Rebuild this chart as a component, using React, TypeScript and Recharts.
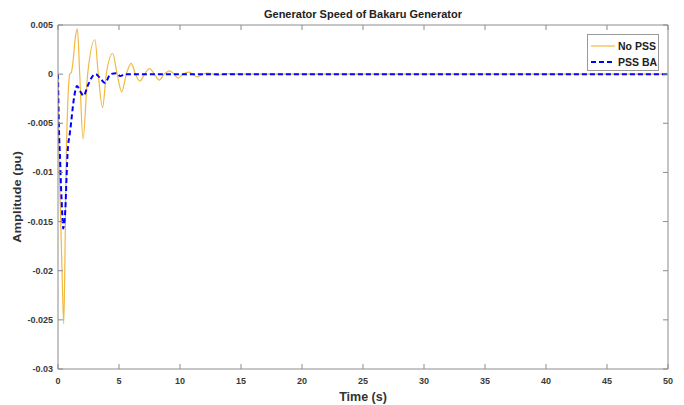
import React from 'react';
import { LineChart, Line, XAxis, YAxis, Legend } from 'recharts';

const noPssTime = [0, 0.03, 0.08, 0.2, 0.33, 0.47, 0.55, 0.62, 0.69, 0.8, 0.96, 1.1, 1.25, 1.4, 1.59, 1.78, 2.05, 2.43, 3.03, 3.3, 3.65, 3.96, 4.48, 4.85, 5.22, 5.6, 6.0, 6.35, 6.7, 7.1, 7.5, 7.9, 8.3, 8.7, 9.15, 9.5, 9.85, 10.25, 10.7, 11.05, 11.4, 11.85, 12.3, 12.7, 13.1, 13.5, 14.0, 15.0, 20, 30, 40, 50];
const noPssAmp = [0, -0.003, -0.0077, -0.014, -0.02, -0.0254, -0.0205, -0.0135, -0.0077, -0.003, 0, 0.0002, 0.0015, 0.0035, 0.0046, 0, -0.0066, 0, 0.0035, 0, -0.0034, 0, 0.0021, 0, -0.0018, 0, 0.0011, 0, -0.0007, 0, 0.00056, 0, -0.0006, 0, 0.00034, 0, -0.0004, 0, 0.0002, 0, -0.00028, 0, 0.0001, 0, -0.00012, 0, 0.00005, 0, 0, 0, 0, 0];

const pssBaTime = [0, 0.03, 0.08, 0.15, 0.25, 0.36, 0.42, 0.5, 0.6, 0.7, 0.8, 0.95, 1.07, 1.2, 1.34, 1.56, 1.8, 2.1, 2.43, 2.84, 3.1, 3.3, 3.52, 3.85, 4.3, 4.8, 5.1, 5.5, 6.5, 10, 20, 30, 40, 50];
const pssBaAmp = [0, -0.0025, -0.0058, -0.008, -0.0115, -0.0145, -0.0157, -0.0153, -0.0138, -0.0105, -0.0077, -0.0062, -0.005, -0.0035, -0.0022, -0.0012, -0.0017, -0.0022, -0.0012, -0.0002, 0, -0.0002, -0.0005, -0.0009, 0, 0.0001, -0.0002, 0, 0, 0, 0, 0, 0, 0];

const xTicks = [0, 5, 10, 15, 20, 25, 30, 35, 40, 45, 50];
const yTicks = [-0.03, -0.025, -0.02, -0.015, -0.01, -0.005, 0, 0.005];
const yTickLabels = ['-0.03', '-0.025', '-0.02', '-0.015', '-0.01', '-0.005', '0', '0.005'];

const seriesNames = ['No PSS', 'PSS BA'];
const titleText = 'Generator Speed of Bakaru Generator';
const xLabelText = 'Time (s)';
const yLabelText = 'Amplitude (pu)';

const noPssData = noPssTime.map((t, i) => ({ t, v: noPssAmp[i] }));
const pssBaData = pssBaTime.map((t, i) => ({ t, v: pssBaAmp[i] }));

const FONT = '"Liberation Sans", Arial, sans-serif';
const AXIS = '#8c8c8c';
const TXT = '#3a3a3a';
const ORANGE = '#F0B942';
const BLUE = '#0000FF';

const BottomTick = (props: any) => {
  const { x, y, payload } = props;
  return (
    <g>
      <line x1={x} x2={x} y1={y} y2={y - 5} stroke={AXIS} strokeWidth={1} />
      <text x={x} y={y + 15} textAnchor="middle" fontFamily={FONT} fontWeight="bold" fontSize={9} fill={TXT}>
        {String(payload.value)}
      </text>
    </g>
  );
};

const TopTick = (props: any) => {
  const { x, y } = props;
  return <line x1={x} x2={x} y1={y} y2={y + 5} stroke={AXIS} strokeWidth={1} />;
};

const LeftTick = (props: any) => {
  const { x, y, payload } = props;
  const idx = yTicks.findIndex((v) => Math.abs(v - payload.value) < 1e-9);
  return (
    <g>
      <line x1={x} x2={x + 5} y1={y} y2={y} stroke={AXIS} strokeWidth={1} />
      <text x={x - 5} y={y + 3} textAnchor="end" fontFamily={FONT} fontWeight="bold" fontSize={9} fill={TXT}>
        {idx >= 0 ? yTickLabels[idx] : String(payload.value)}
      </text>
    </g>
  );
};

const RightTick = (props: any) => {
  const { x, y } = props;
  return <line x1={x} x2={x - 5} y1={y} y2={y} stroke={AXIS} strokeWidth={1} />;
};

const LegendBox = (props: any) => {
  const payload = props.payload || [];
  return (
    <div
      style={{
        width: 72,
        height: 37,
        background: '#fff',
        border: '1px solid #9a9a9a',
        boxSizing: 'border-box',
        fontFamily: FONT,
        fontWeight: 'bold',
        fontSize: 10.5,
        color: '#222',
        paddingTop: 3,
      }}
    >
      {payload.map((p: any, i: number) => (
        <div key={i} style={{ display: 'flex', alignItems: 'center', height: 16 }}>
          <svg width={30} height={10} style={{ display: 'block' }}>
            <line
              x1={3}
              x2={27}
              y1={5}
              y2={5}
              stroke={p.color}
              strokeWidth={p.payload && p.payload.strokeDasharray ? 2 : 1.2}
              strokeDasharray={p.payload && p.payload.strokeDasharray ? p.payload.strokeDasharray : undefined}
            />
          </svg>
          <span style={{ marginLeft: 0 }}>{p.value}</span>
        </div>
      ))}
    </div>
  );
};

export default function App() {
  return (
    <div style={{ position: 'absolute', left: 0, top: 0, width: 684, height: 405, background: '#fff' }}>
      <LineChart width={684} height={405} margin={{ top: 24, right: 15, bottom: 0, left: 0 }}>
        <XAxis
          xAxisId="b"
          dataKey="t"
          type="number"
          domain={[0, 50]}
          ticks={xTicks}
          allowDataOverflow
          height={36}
          stroke={AXIS}
          tickLine={false}
          tickSize={0}
          tickMargin={0}
          tick={<BottomTick />}
          interval={0}
        />
        <XAxis
          xAxisId="top"
          orientation="top"
          dataKey="t"
          type="number"
          domain={[0, 50]}
          ticks={xTicks}
          allowDataOverflow
          height={1}
          stroke={AXIS}
          tickLine={false}
          tickSize={0}
          tickMargin={0}
          tick={<TopTick />}
          interval={0}
        />
        <YAxis
          yAxisId="l"
          type="number"
          domain={[-0.03, 0.005]}
          ticks={yTicks}
          allowDataOverflow
          width={58}
          stroke={AXIS}
          tickLine={false}
          tickSize={0}
          tickMargin={0}
          tick={<LeftTick />}
          interval={0}
        />
        <YAxis
          yAxisId="r"
          orientation="right"
          type="number"
          domain={[-0.03, 0.005]}
          ticks={yTicks}
          allowDataOverflow
          width={1}
          stroke={AXIS}
          tickLine={false}
          tickSize={0}
          tickMargin={0}
          tick={<RightTick />}
          interval={0}
        />
        <Legend
          layout="vertical"
          align="center"
          verticalAlign="middle"
          content={<LegendBox />}
          wrapperStyle={{ position: 'absolute', left: 587, top: 34, width: 72, height: 37 }}
        />
        <Line
          xAxisId="top"
          yAxisId="r"
          data={noPssData}
          dataKey="v"
          name={seriesNames[0]}
          type="monotone"
          stroke={ORANGE}
          strokeWidth={1.2}
          dot={false}
          activeDot={false}
          isAnimationActive={false}
        />
        <Line
          xAxisId="b"
          yAxisId="l"
          data={pssBaData}
          dataKey="v"
          name={seriesNames[1]}
          type="monotone"
          stroke={BLUE}
          strokeWidth={2}
          strokeDasharray="5 3"
          dot={false}
          activeDot={false}
          isAnimationActive={false}
        />
      </LineChart>
      <div
        style={{
          position: 'absolute',
          left: 58,
          width: 610,
          top: 7,
          textAlign: 'center',
          fontFamily: FONT,
          fontWeight: 'bold',
          fontSize: 11,
          color: '#222',
          lineHeight: '14px',
        }}
      >
        {titleText}
      </div>
      <div
        style={{
          position: 'absolute',
          left: 58,
          width: 610,
          top: 389,
          textAlign: 'center',
          fontFamily: FONT,
          fontWeight: 'bold',
          fontSize: 12.5,
          color: '#333',
          lineHeight: '16px',
        }}
      >
        {xLabelText}
      </div>
      <div
        style={{
          position: 'absolute',
          left: 18 - 60,
          top: 197 - 8,
          width: 120,
          height: 16,
          textAlign: 'center',
          fontFamily: FONT,
          fontWeight: 'bold',
          fontSize: 13,
          color: '#333',
          lineHeight: '16px',
          transform: 'rotate(-90deg) scaleY(0.85)',
          transformOrigin: '60px 8px',
        }}
      >
        {yLabelText}
      </div>
    </div>
  );
}
